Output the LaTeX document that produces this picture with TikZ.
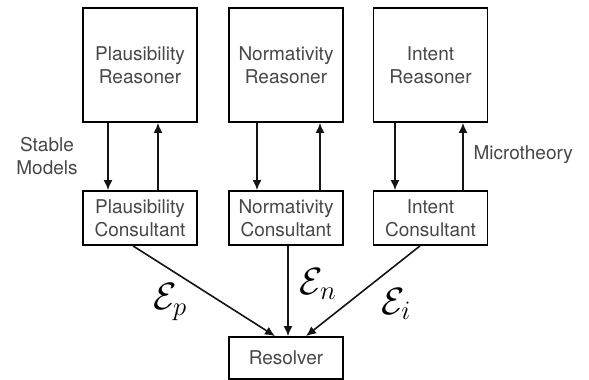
\RequirePackage{fix-cm}
\documentclass[tikz,border=0pt]{standalone}
\usepackage{amsmath,amsfonts,amssymb}
\usepackage{fontspec}
\setmainfont{TeX Gyre Heros}
\usepackage{tikz}
\usetikzlibrary{arrows.meta}

\begin{document}
\begin{tikzpicture}[x=1pt,y=-1pt,
  box/.style={draw,line width=1.8pt,align=center,text=black!72,inner sep=0pt,
    font=\fontsize{19}{23}\selectfont},
  reasonerbox/.style={box,minimum width=114pt,minimum height=114pt},
  consultbox/.style={box,minimum width=114pt,minimum height=54pt},
  flow/.style={line width=1.6pt,-{Latex[length=10pt,width=9pt]}},
  lbl/.style={text=black!72,align=center,font=\fontsize{19}{23}\selectfont},
  mlbl/.style={font=\fontsize{38}{38}\selectfont}]
% Define colors
\definecolor{ink}{RGB}{20,20,20}

% Fix margins
\useasboundingbox (0,0) rectangle (589,380);

% Draw reasoners
\node[reasonerbox] (pr) at (140,65) {Plausibility\\Reasoner};
\node[reasonerbox] (nr) at (286,65) {Normativity\\Reasoner};
\node[reasonerbox] (ir) at (430.5,65) {Intent\\Reasoner};

% Draw consultants
\node[consultbox] (pc) at (140,218) {Plausibility\\Consultant};
\node[consultbox] (nc) at (286,218) {Normativity\\Consultant};
\node[consultbox] (ic) at (430.5,218) {Intent\\Consultant};

% Draw resolver
\node[box,minimum width=114pt,minimum height=42pt] (res) at (286,358) {Resolver};

% Draw reasoner/consultant arrows
\draw[flow,ink] ([xshift=-32pt]pr.south) -- ([xshift=-32pt]pc.north);
\draw[flow,ink] ([xshift=18pt]pc.north) -- ([xshift=18pt]pr.south);
\draw[flow,ink] ([xshift=-29pt]nr.south) -- ([xshift=-29pt]nc.north);
\draw[flow,ink] ([xshift=34pt]nc.north) -- ([xshift=34pt]nr.south);
\draw[flow,ink] ([xshift=-35.5pt]ir.south) -- ([xshift=-35.5pt]ic.north);
\draw[flow,ink] ([xshift=32.5pt]ic.north) -- ([xshift=32.5pt]ir.south);

% Draw arrows to resolver
\draw[flow,ink] ([xshift=-7pt]pc.south) -- ([xshift=-11pt]res.north);
\draw[flow,ink] ([xshift=2pt]nc.south) -- ([xshift=2pt]res.north);
\draw[flow,ink] ([xshift=-10.5pt]ic.south) -- ([xshift=20pt]res.north);

% Add labels
\node[lbl] (sm) at (47,156) {Stable\\Models};
\node[lbl,anchor=west] (mt) at (470,155) {Microtheory};
\node[mlbl] (ep) at (170,302) {$\mathcal{E}_p$};
\node[mlbl] (en) at (318,284) {$\mathcal{E}_n$};
\node[mlbl] (ei) at (396,304) {$\mathcal{E}_i$};
\end{tikzpicture}
\end{document}
